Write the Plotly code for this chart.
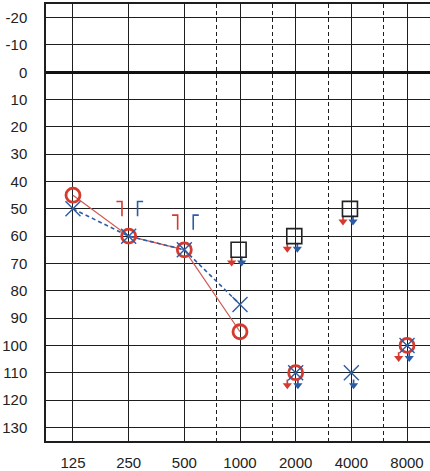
import plotly.graph_objects as go

# ---- data ----
freq_labels = ["125", "250", "500", "1000", "2000", "4000", "8000"]
octave_freqs = [125, 250, 500, 1000, 2000, 4000, 8000]
half_octave_freqs = [750, 1500, 3000, 6000]
db_ticks = [-20, -10, 0, 10, 20, 30, 40, 50, 60, 70, 80, 90, 100, 110, 120, 130]
db_labels = ["-20", "-10", "0", "10", "20", "30", "40", "50", "60", "70", "80",
             "90", "100", "110", "120", "130"]

ac_freqs = [125, 250, 500, 1000]
right_ac = [45, 60, 65, 95]
left_ac = [50, 60, 65, 85]

right_nr_freqs = [2000, 8000]
right_nr = [110, 100]
left_nr_freqs = [2000, 4000, 8000]
left_nr = [110, 110, 100]

bone_freqs = [250, 500]
right_bone = [50, 55]
left_bone = [50, 55]

square_freqs = [1000, 2000, 4000]
square_vals = [65, 60, 50]

RED = "#d63a2e"
RED_LINE = "#cf5a52"
BLUE = "#2d5ca6"
GRID = "#1e1e1e"

fig = go.Figure()

def shift(f, octs):
    return f * (2 ** octs)

# connecting lines
fig.add_trace(go.Scatter(x=ac_freqs, y=right_ac, mode="lines",
                         line=dict(color=RED_LINE, width=1.2), hoverinfo="skip"))
fig.add_trace(go.Scatter(x=ac_freqs, y=left_ac, mode="lines",
                         line=dict(color=BLUE, width=1.6, dash="4px,3px"), hoverinfo="skip"))

# bone conduction brackets
def brackets(freqs, vals, color, v_off, h_len):
    xs, ys = [], []
    for f, v in zip(freqs, vals):
        xv = shift(f, v_off)
        xh = shift(f, v_off + h_len)
        xs += [xh, xv, xv, None]
        ys += [v - 2.7, v - 2.7, v + 2.7, None]
    fig.add_trace(go.Scatter(x=xs, y=ys, mode="lines",
                             line=dict(color=color, width=1.6), hoverinfo="skip"))

brackets(bone_freqs, right_bone, RED, -0.12, -0.10)
brackets(bone_freqs, left_bone, BLUE, 0.16, 0.10)

# no-response arrows
def arrows(freqs, vals, color, off):
    xs, ys, tx, ty = [], [], [], []
    for f, v in zip(freqs, vals):
        x = shift(f, off)
        xs += [x, x, None]
        ys += [v + 2.5, v + 5.0, None]
        tx.append(x)
        ty.append(v + 4.6)
    fig.add_trace(go.Scatter(x=xs, y=ys, mode="lines",
                             line=dict(color=color, width=1.7), hoverinfo="skip"))
    fig.add_trace(go.Scatter(x=tx, y=ty, mode="markers",
                             marker=dict(symbol="triangle-down", size=8, color=color,
                                         line=dict(width=0)), hoverinfo="skip"))

arrows(right_nr_freqs, right_nr, RED, -0.15)
arrows(left_nr_freqs, left_nr, BLUE, 0.04)
arrows(square_freqs, square_vals, RED, -0.15)
arrows(square_freqs, square_vals, BLUE, 0.03)

# squares
fig.add_trace(go.Scatter(x=[shift(f, -0.025) for f in square_freqs], y=square_vals,
                         mode="markers",
                         marker=dict(symbol="square-open", size=15, color="#222",
                                     line=dict(width=1.6)), hoverinfo="skip"))

# right ear circles
fig.add_trace(go.Scatter(x=ac_freqs + right_nr_freqs, y=right_ac + right_nr, mode="markers",
                         marker=dict(symbol="circle-open", size=14, color=RED,
                                     line=dict(width=2.8)), hoverinfo="skip"))
# left ear crosses
fig.add_trace(go.Scatter(x=ac_freqs + left_nr_freqs, y=left_ac + left_nr, mode="markers",
                         marker=dict(symbol="x-thin", size=15, color=BLUE,
                                     line=dict(width=1.4, color=BLUE)), hoverinfo="skip"))

fig.update_layout(
    width=430, height=471,
    margin=dict(l=46, r=0, t=4, b=24),
    paper_bgcolor="white", plot_bgcolor="white",
    showlegend=False,
    font=dict(family="Liberation Sans, Arial, sans-serif", size=15, color="#222"),
)
fig.update_xaxes(
    type="log", range=[1.951, 4.0274],
    tickmode="array", tickvals=octave_freqs, ticktext=freq_labels,
    showgrid=True, gridcolor=GRID, gridwidth=1.4,
    minor=dict(tickmode="array", tickvals=half_octave_freqs, showgrid=True,
               gridcolor=GRID, gridwidth=1, griddash="4px,3px", ticks=""),
    showline=True, linecolor=GRID, linewidth=1.5, mirror=True,
    ticks="", ticklabelstandoff=7, zeroline=False,
)
fig.update_yaxes(
    range=[135, -25],
    tickmode="array", tickvals=db_ticks, ticktext=db_labels,
    showgrid=True, gridcolor=GRID, gridwidth=1.4,
    zeroline=True, zerolinecolor="#111", zerolinewidth=2.6,
    showline=True, linecolor=GRID, linewidth=1.5, mirror=False,
    ticks="", ticklabelstandoff=14,
)

fig.write_html("out.html", config={"displayModeBar": False},
               post_script="document.body.style.margin='0';document.body.style.overflow='hidden';")
